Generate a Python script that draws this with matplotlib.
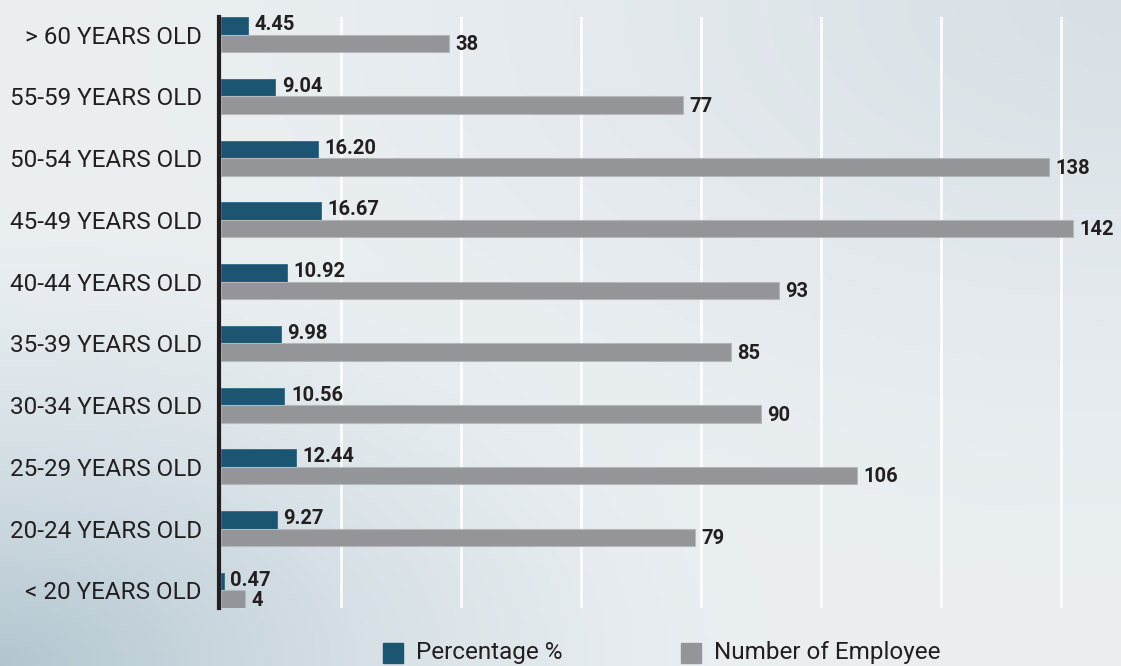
import matplotlib.pyplot as plt
import numpy as np
from matplotlib.patches import Rectangle

## Data (top to bottom as shown)
categories = ["> 60 YEARS OLD", "55-59 YEARS OLD", "50-54 YEARS OLD", "45-49 YEARS OLD",
              "40-44 YEARS OLD", "35-39 YEARS OLD", "30-34 YEARS OLD", "25-29 YEARS OLD",
              "20-24 YEARS OLD", "< 20 YEARS OLD"]
percentage = [4.45, 9.04, 16.20, 16.67, 10.92, 9.98, 10.56, 12.44, 9.27, 0.47]
employees = [38, 77, 138, 142, 93, 85, 90, 106, 79, 4]
pct_labels = ["4.45", "9.04", "16.20", "16.67", "10.92", "9.98", "10.56", "12.44", "9.27", "0.47"]
series_names = ["Percentage %", "Number of Employee"]

BLUE = "#1b5572"
GRAY = "#939598"
TEXT = "#231f20"

plt.rcParams['font.family'] = ['Roboto', 'DejaVu Sans']

W, H = 1121, 666
fig = plt.figure(figsize=(W / 100, H / 100), dpi=100)

## background gradient
bg = fig.add_axes([0, 0, 1, 1], zorder=-10)
h, w = 200, 336
yy, xx = np.mgrid[0:1:h * 1j, 0:1:w * 1j]  # yy=0 top
light = np.array([0.918, 0.937, 0.949])
dark_bl = np.array([0.70, 0.775, 0.815])
dark_tr = np.array([0.845, 0.877, 0.898])
d_bl = np.clip(1 - np.hypot(xx * 1.0, (1 - yy) * 1.0) / 0.7, 0, 1) ** 1.6
d_tr = np.clip(1 - np.hypot((1 - xx) * 0.9, yy * 0.9) / 0.8, 0, 1) ** 1.4
img = light[None, None, :] * np.ones((h, w, 1))
img = img + (dark_bl - light)[None, None, :] * d_bl[..., None]
img = img + (dark_tr - light)[None, None, :] * d_tr[..., None]
bg.imshow(np.clip(img, 0, 1), aspect='auto', extent=[0, 1, 0, 1])
bg.axis('off')

## main chart
ax = fig.add_axes([221 / W, 1 - 608 / H, 900 / W, 591 / H])
ax.patch.set_alpha(0)
n = len(categories)
y = np.arange(n)[::-1]
bh = 0.285

ax.barh(y + bh / 2, percentage, height=bh, color=BLUE, edgecolor="#2f6a86", linewidth=0.6)
ax.barh(y - bh / 2, employees, height=bh, color=GRAY, edgecolor="#b5b8ba", linewidth=0.8)

for yi, p, pl, e in zip(y, percentage, pct_labels, employees):
    ax.text(p + 1.1, yi + bh / 2 + 0.02, pl, va='center', ha='left',
            fontsize=14.5, fontweight='bold', color=TEXT)
    ax.text(e + 1.1, yi - bh / 2 - 0.02, str(e), va='center', ha='left',
            fontsize=14.5, fontweight='bold', color=TEXT)

ax.set_xlim(0, 150)
ax.set_ylim(-bh, n - 1 + bh)
ax.set_yticks(y)
ax.set_yticklabels(categories)
ax.tick_params(axis='y', length=0, pad=12.5, labelsize=17.5, labelcolor=TEXT)
ax.set_xticks([20, 40, 60, 80, 100, 120, 140])
ax.tick_params(axis='x', length=0, labelbottom=False)
ax.grid(axis='x', color='white', linewidth=1.8)
ax.set_axisbelow(True)
for s in ['top', 'right', 'bottom']:
    ax.spines[s].set_visible(False)
ax.spines['left'].set_linewidth(3)
ax.spines['left'].set_color(TEXT)
ax.spines['left'].set_position(('data', -0.3))

## legend (drawn by hand for placement)
for x0, col, name in zip([383, 681], [BLUE, GRAY], series_names):
    fig.add_artist(Rectangle((x0 / W, 1 - 663 / H), 20 / W, 20 / H,
                             transform=fig.transFigure, color=col))
    fig.text((x0 + 33) / W, 1 - 653 / H, name, fontsize=17.5, color=TEXT,
             va='center', ha='left')

fig.savefig("out.png", dpi=100)
